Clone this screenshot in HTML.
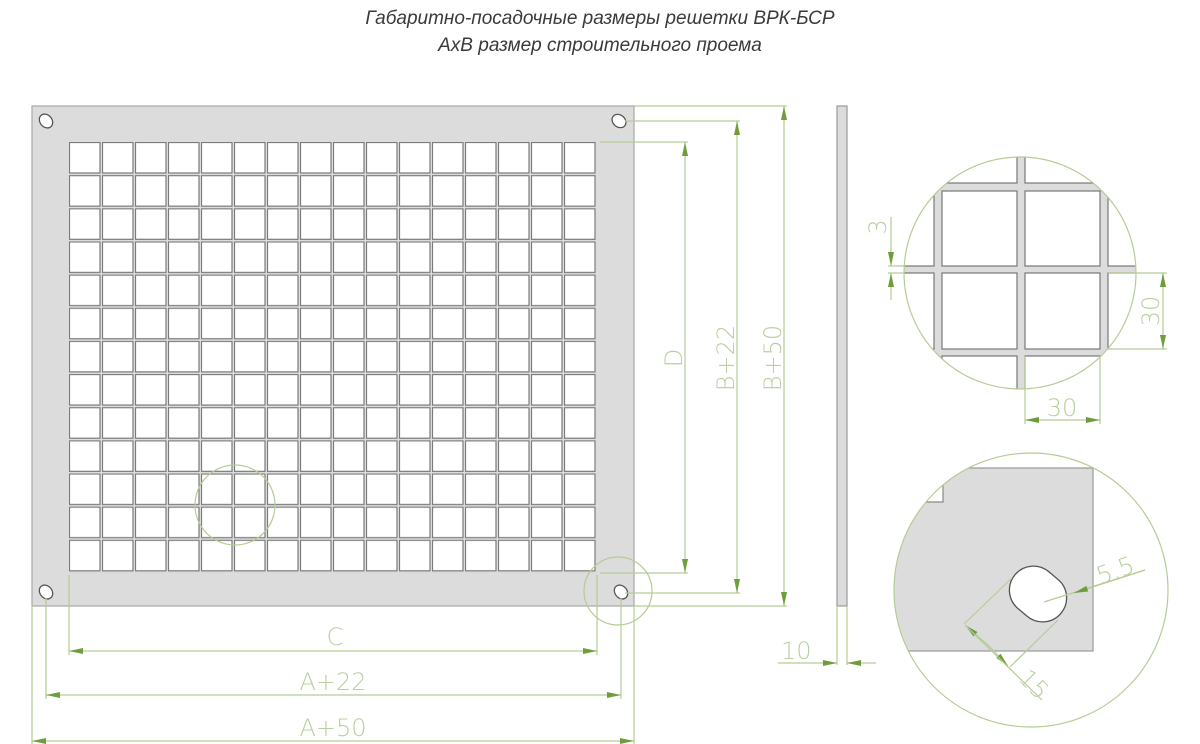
<!DOCTYPE html>
<html><head><meta charset="utf-8"><style>
html,body{margin:0;padding:0;background:#fff;width:1200px;height:744px;overflow:hidden}
svg{display:block}
.t{font-family:"Liberation Sans",sans-serif;font-style:italic;font-size:19px;fill:#3a3a3a}
.d{font-family:"DejaVu Sans","Liberation Sans",sans-serif;font-size:24px;fill:#b9cfa0;font-weight:200}
.g{stroke:#b5cc96;stroke-width:1.2;fill:none}
</style></head><body>
<svg width="1200" height="744" viewBox="0 0 1200 744" xmlns="http://www.w3.org/2000/svg">
<defs>
<pattern id="cells" x="69" y="142" width="33" height="33.15" patternUnits="userSpaceOnUse">
<rect x="0.5" y="0.5" width="30.5" height="30.5" fill="#fff" stroke="#7a7a7a" stroke-width="1.2"/>
</pattern>
<marker id="ar" viewBox="0 0 14 6" refX="14" refY="3" markerWidth="15" markerHeight="6" orient="auto" markerUnits="userSpaceOnUse"><path d="M0,0L14,3L0,6z" fill="#6e9e3c"/></marker>
<clipPath id="c1"><circle cx="1020" cy="273" r="116"/></clipPath>
<clipPath id="c2"><circle cx="1031" cy="590" r="137"/></clipPath>
</defs>
<text class="t" x="600" y="24" text-anchor="middle">Габаритно-посадочные размеры решетки ВРК-БСР</text>
<text class="t" x="600" y="51" text-anchor="middle">АхВ размер строительного проема</text>

<rect x="32" y="106" width="602" height="500" fill="#dcdcdc" stroke="#a8a8a8" stroke-width="1.2"/>
<rect x="69" y="142" width="528" height="431" fill="url(#cells)"/>
<g fill="#fff" stroke="#555" stroke-width="1.3">
<ellipse cx="46" cy="121" rx="6" ry="7.5" transform="rotate(-40 46 121)"/>
<ellipse cx="619" cy="121" rx="6" ry="7.5" transform="rotate(-50 619 121)"/>
<ellipse cx="46" cy="592" rx="6" ry="7.5" transform="rotate(-40 46 592)"/>
<ellipse cx="621" cy="592" rx="6" ry="7.5" transform="rotate(-40 621 592)"/>
</g>
<circle cx="235" cy="505" r="40" class="g"/>
<circle cx="618" cy="591" r="34" class="g"/>

<g class="g">
<path d="M600 142H688M625 121H740M634 106H787"/>
<path d="M600 573H688M625 593H740M634 606H787"/>
</g>
<g stroke="#b5cc96" stroke-width="1.2">
<line x1="685" y1="360" x2="685" y2="142" marker-end="url(#ar)"/><line x1="685" y1="360" x2="685" y2="573" marker-end="url(#ar)"/>
<line x1="737" y1="360" x2="737" y2="121" marker-end="url(#ar)"/><line x1="737" y1="360" x2="737" y2="593" marker-end="url(#ar)"/>
<line x1="784" y1="360" x2="784" y2="106" marker-end="url(#ar)"/><line x1="784" y1="360" x2="784" y2="606" marker-end="url(#ar)"/>
<path d="M69 575V655M597 575V655M46 598V699M621 598V699M32 606V744M634 606V744" fill="none"/>
<line x1="330" y1="651" x2="69" y2="651" marker-end="url(#ar)"/><line x1="330" y1="651" x2="597" y2="651" marker-end="url(#ar)"/>
<line x1="330" y1="695" x2="46" y2="695" marker-end="url(#ar)"/><line x1="330" y1="695" x2="621" y2="695" marker-end="url(#ar)"/>
<line x1="330" y1="741" x2="32" y2="741" marker-end="url(#ar)"/><line x1="330" y1="741" x2="634" y2="741" marker-end="url(#ar)"/>
</g>
<text class="d" transform="translate(682 358) rotate(-90)" text-anchor="middle">D</text>
<text class="d" transform="translate(734 358) rotate(-90)" text-anchor="middle">B+22</text>
<text class="d" transform="translate(781 358) rotate(-90)" text-anchor="middle">B+50</text>
<text class="d" x="335" y="645" text-anchor="middle">C</text>
<text class="d" x="333" y="690" text-anchor="middle">A+22</text>
<text class="d" x="333" y="736" text-anchor="middle">A+50</text>

<rect x="837" y="106" width="10" height="500" fill="#dcdcdc" stroke="#999" stroke-width="1.2"/>
<g stroke="#b5cc96" stroke-width="1.2">
<path d="M837 606V665M847 606V665"/>
<line x1="778" y1="663" x2="837" y2="663" marker-end="url(#ar)"/>
<line x1="876" y1="663" x2="847" y2="663" marker-end="url(#ar)"/>
</g>
<text class="d" x="781" y="659">10</text>

<g clip-path="url(#c1)">
<rect x="900" y="150" width="240" height="240" fill="#dcdcdc"/>
<g fill="#fff" stroke="#777" stroke-width="1.2">
<rect x="860" y="100" width="74" height="83"/><rect x="942" y="100" width="75" height="83"/><rect x="1025" y="100" width="75" height="83"/><rect x="1108" y="100" width="60" height="83"/>
<rect x="860" y="191" width="74" height="75"/><rect x="942" y="191" width="75" height="75"/><rect x="1025" y="191" width="75" height="75"/><rect x="1108" y="191" width="60" height="75"/>
<rect x="860" y="273" width="74" height="76"/><rect x="942" y="273" width="75" height="76"/><rect x="1025" y="273" width="75" height="76"/><rect x="1108" y="273" width="60" height="76"/>
<rect x="860" y="356" width="74" height="60"/><rect x="942" y="356" width="75" height="60"/><rect x="1025" y="356" width="75" height="60"/><rect x="1108" y="356" width="60" height="60"/>
</g>
</g>
<circle cx="1020" cy="273" r="116" class="g"/>
<g stroke="#b5cc96" stroke-width="1.2">
<path d="M888 266H904M888 273H904M1108 273H1167M1108 349H1167M1025 356V424M1100 356V424"/>
<line x1="891" y1="217" x2="891" y2="266" marker-end="url(#ar)"/>
<line x1="891" y1="300" x2="891" y2="273" marker-end="url(#ar)"/>
<line x1="1163" y1="311" x2="1163" y2="273" marker-end="url(#ar)"/>
<line x1="1163" y1="311" x2="1163" y2="349" marker-end="url(#ar)"/>
<line x1="1062" y1="420" x2="1025" y2="420" marker-end="url(#ar)"/>
<line x1="1062" y1="420" x2="1100" y2="420" marker-end="url(#ar)"/>
</g>
<text class="d" transform="translate(886 227) rotate(-90)" text-anchor="middle">3</text>
<text class="d" transform="translate(1159 311) rotate(-90)" text-anchor="middle">30</text>
<text class="d" x="1062" y="416" text-anchor="middle">30</text>

<g clip-path="url(#c2)">
<rect x="880" y="468" width="213" height="183" fill="#dcdcdc" stroke="#999" stroke-width="1.2"/>
<path d="M880 502H943V470" fill="#fff" stroke="#888" stroke-width="1.2"/>
</g>
<circle cx="1031" cy="590" r="137" class="g"/>
<rect x="1008" y="570" width="60" height="48" rx="24" fill="#fff" stroke="#555" stroke-width="1.3" transform="rotate(40 1038 594)"/>
<g stroke="#b5cc96" stroke-width="1.2">
<path d="M1012 578L964 624M1058 620L1010 667M1044 602L1145 570"/>
<line x1="1145" y1="570" x2="1074" y2="593" marker-end="url(#ar)"/>
<line x1="990" y1="647" x2="965" y2="625" marker-end="url(#ar)"/>
<line x1="990" y1="647" x2="1008" y2="666" marker-end="url(#ar)"/>
<line x1="965" y1="625" x2="1042" y2="700"/>
</g>
<text class="d" transform="translate(1118 578) rotate(-20)" text-anchor="middle">5.5</text>
<text class="d" transform="translate(1028 690) rotate(45)" text-anchor="middle">15</text>
</svg>
</body></html>
